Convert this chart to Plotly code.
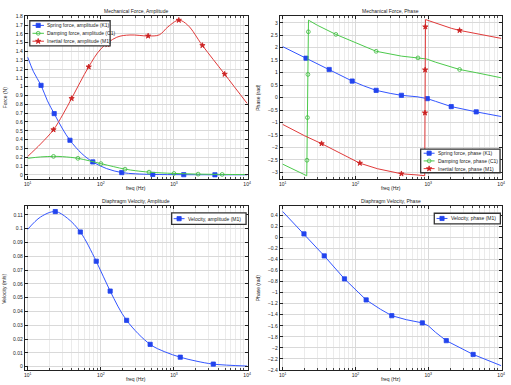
import plotly.graph_objects as go

W, H = 511, 385

# ---------------- data ----------------
# Mechanical force, amplitude (N) vs freq (Hz)
spring_amp_f = [10, 12, 15.2, 18.6, 23, 30, 37.8, 55, 77.5, 120, 193, 300, 513, 1361, 3630, 10000]
spring_amp_v = [1.335, 1.17, 1.016, 0.84, 0.695, 0.52, 0.392, 0.24, 0.146, 0.07, 0.025, 0.011, 0.004, 0.001, 0.0, 0.0]
spring_amp_mf = [15.2, 23, 37.8, 77.5, 193, 513, 1361, 3630]
spring_amp_mv = [1.016, 0.695, 0.392, 0.146, 0.025, 0.004, 0.001, 0.0]

damp_amp_f = [10, 15, 22.5, 30, 48.5, 70, 100, 150, 214, 300, 456, 1000, 2140, 4560, 10000]
damp_amp_v = [0.187, 0.203, 0.209, 0.206, 0.187, 0.158, 0.127, 0.092, 0.064, 0.046, 0.030, 0.015, 0.0075, 0.004, 0.002]
damp_amp_mf = [22.5, 48.5, 100, 214, 456, 1000, 2140, 4560]
damp_amp_mv = [0.209, 0.187, 0.127, 0.064, 0.030, 0.015, 0.0075, 0.004]

inert_amp_f = [10, 15, 22.5, 30, 39.8, 52, 68.2, 100, 165, 250, 443, 631, 826, 1164, 1542, 2450, 4930, 10000]
inert_amp_v = [0.209, 0.35, 0.512, 0.68, 0.867, 1.05, 1.226, 1.43, 1.562, 1.588, 1.577, 1.59, 1.68, 1.756, 1.70, 1.469, 1.143, 0.811]
inert_amp_mf = [22.5, 39.8, 68.2, 123, 443, 1164, 2450, 4930]
inert_amp_mv = [0.512, 0.867, 1.226, 1.48, 1.577, 1.756, 1.469, 1.143]

# Mechanical force, phase (rad)
spring_ph_f = [10, 20.9, 43.5, 90, 130, 192, 300, 427, 700, 968, 1260, 2066, 4550, 10000]
spring_ph_v = [2.044, 1.58, 1.128, 0.664, 0.47, 0.292, 0.17, 0.093, 0.035, -0.04, -0.15, -0.359, -0.571, -0.757]
spring_ph_mf = [20.9, 43.5, 90, 192, 427, 968, 2066, 4550]
spring_ph_mv = [1.58, 1.128, 0.664, 0.292, 0.093, -0.04, -0.359, -0.571]

damp_ph_f = [10, 15, 21.4, 22.6, 30, 53.7, 100, 192, 427, 721, 948, 1260, 2066, 2690, 4550, 10000]
damp_ph_v = [-2.668, -2.90, -3.133, 3.106, 2.90, 2.535, 2.19, 1.858, 1.664, 1.593, 1.55, 1.42, 1.212, 1.128, 1.0, 0.796]
damp_ph_mf = [21.52, 21.85, 22.18, 22.51, 53.7, 192, 721, 2690]
damp_ph_mv = [-2.51, -0.80, 0.93, 2.64, 2.535, 1.858, 1.593, 1.128]

inert_ph_f = [10, 20, 34.2, 60, 114.6, 200, 427, 700, 893, 915, 1260, 2066, 2690, 4550, 10000]
inert_ph_v = [-1.075, -1.53, -1.845, -2.22, -2.628, -2.85, -3.053, -3.10, -3.13, 3.13, 2.99, 2.78, 2.695, 2.57, 2.376]
inert_ph_mf = [34.2, 114.6, 427, 895, 900, 905, 911, 2690]
inert_ph_mv = [-1.845, -2.628, -3.053, -2.32, -0.61, 1.115, 2.84, 2.695]

# Diaphragm velocity, amplitude (m/s)
vel_amp_f = [10, 15, 23.8, 35, 52.4, 86.5, 134, 225, 472, 750, 1219, 2000, 3450, 10000]
vel_amp_v = [0.0995, 0.1085, 0.1124, 0.1075, 0.0976, 0.0764, 0.0548, 0.0336, 0.0162, 0.0108, 0.0069, 0.0041, 0.0019, 0.0005]
vel_amp_mf = [23.8, 52.4, 86.5, 134, 225, 472, 1219, 3450]
vel_amp_mv = [0.1124, 0.0976, 0.0764, 0.0548, 0.0336, 0.0162, 0.0069, 0.0019]

# Diaphragm velocity, phase (rad)
vel_ph_f = [10, 19.6, 37.2, 70.6, 140, 220, 315, 500, 828, 1000, 1260, 1766, 2700, 4130, 10000]
vel_ph_v = [0.471, 0.066, -0.333, -0.75, -1.131, -1.30, -1.417, -1.49, -1.548, -1.60, -1.72, -1.87, -1.995, -2.12, -2.323]
vel_ph_mf = [19.6, 37.2, 70.6, 140, 315, 828, 1766, 4130]
vel_ph_mv = [0.066, -0.333, -0.75, -1.131, -1.417, -1.548, -1.87, -2.12]

# axis tick labels and texts
x_tickvals = [10, 100, 1000, 10000]
x_ticktext = ["10<sup>1</sup>", "10<sup>2</sup>", "10<sup>3</sup>", "10<sup>4</sup>"]
titles = ["Mechanical Force, Amplitude", "Mechanical Force, Phase",
          "Diaphragm Velocity, Amplitude", "Diaphragm Velocity, Phase"]
ytitles = ["Force (N)", "Phase (rad)", "Velocity (m/s)", "Phase (rad)"]
xtitle = "freq (Hz)"
legend_tl = ["Spring force, amplitude (K1)", "Damping force, amplitude (C1)", "Inertial force, amplitude (M1)"]
legend_tr = ["Spring force, phase (K1)", "Damping force, phase (C1)", "Inertial force, phase (M1)"]
legend_bl = ["Velocity, amplitude (M1)"]
legend_br = ["Velocity, phase (M1)"]

# ---------------- styling ----------------
BLUE, GREEN, RED = "#3355ff", "#4cc94c", "#e03a3a"
BLUE_M, GREEN_M, RED_M = "#2244ee", "#3cb83c", "#cc2222"
FONT = "Liberation Sans, Arial, sans-serif"
FS = 5
GRID, MGRID = "#d9d9d9", "#ebebeb"

STY = {
    "blue": dict(color=BLUE, mcolor=BLUE_M, symbol="square", size=4.2),
    "green": dict(color=GREEN, mcolor=GREEN_M, symbol="circle-open", size=3.8),
    "red": dict(color=RED, mcolor=RED_M, symbol="star", size=4),
}

fig = go.Figure()


def add_series(ax, f, v, mf, mv, sty, shape):
    s = STY[sty]
    fig.add_trace(go.Scatter(x=f, y=v, mode="lines", xaxis="x" + ax, yaxis="y" + ax,
                             line=dict(color=s["color"], width=1, shape=shape, smoothing=1),
                             showlegend=False, hoverinfo="skip"))
    fig.add_trace(go.Scatter(x=mf, y=mv, mode="markers", xaxis="x" + ax, yaxis="y" + ax,
                             marker=dict(color=s["mcolor"], symbol=s["symbol"], size=s["size"],
                                         line=dict(color=s["mcolor"], width=0.8)),
                             showlegend=False, hoverinfo="skip"))


add_series("", spring_amp_f, spring_amp_v, spring_amp_mf, spring_amp_mv, "blue", "spline")
add_series("", damp_amp_f, damp_amp_v, damp_amp_mf, damp_amp_mv, "green", "spline")
add_series("", inert_amp_f, inert_amp_v, inert_amp_mf, inert_amp_mv, "red", "spline")
add_series("2", spring_ph_f, spring_ph_v, spring_ph_mf, spring_ph_mv, "blue", "linear")
add_series("2", damp_ph_f, damp_ph_v, damp_ph_mf, damp_ph_mv, "green", "linear")
add_series("2", inert_ph_f, inert_ph_v, inert_ph_mf, inert_ph_mv, "red", "linear")
add_series("3", vel_amp_f, vel_amp_v, vel_amp_mf, vel_amp_mv, "blue", "spline")
add_series("4", vel_ph_f, vel_ph_v, vel_ph_mf, vel_ph_mv, "blue", "linear")

# pixel-box of each plot: (left, top, right, bottom)
boxes = [(24, 13.5, 249, 178.5), (281, 13.5, 505, 178.5),
         (24, 206, 249, 372), (281, 206, 505, 372)]
yranges = [[-0.05, 1.8], [-3.27, 3.26], [-0.0025, 0.1162], [-2.405, 0.566]]
ydticks = [0.1, 0.5, 0.01, 0.2]

layout = dict(width=W, height=H, margin=dict(l=0, r=0, t=0, b=0),
              paper_bgcolor="white", plot_bgcolor="rgba(0,0,0,0)",
              font=dict(family=FONT, size=FS, color="#222"), showlegend=False)

for i, (l, t, r, b) in enumerate(boxes):
    n = "" if i == 0 else str(i + 1)
    dx = [l / W, r / W]
    dy = [1 - b / H, 1 - t / H]
    layout["xaxis" + n] = dict(
        type="log", range=[0.96, 4.013], tickvals=x_tickvals, ticktext=x_ticktext,
        domain=dx, anchor="y" + n, showline=True, linecolor="#222", linewidth=1, mirror="ticks",
        ticks="inside", ticklen=3, tickwidth=0.7, tickcolor="#222",
        showgrid=True, gridcolor=GRID, gridwidth=0.7, zeroline=False,
        tickfont=dict(size=FS, family=FONT, color="#222"),
        minor=dict(dtick="D1", ticks="inside", ticklen=2, tickwidth=0.5, tickcolor="#444",
                   showgrid=True, gridcolor=MGRID, gridwidth=0.7),
        fixedrange=True)
    layout["yaxis" + n] = dict(
        range=yranges[i], dtick=ydticks[i], tick0=0, domain=dy, anchor="x" + n,
        showline=True, linecolor="#222", linewidth=1, mirror="ticks",
        ticks="inside", ticklen=3, tickwidth=0.7, tickcolor="#222",
        showgrid=True, gridcolor=GRID, gridwidth=0.7, zeroline=False,
        tickfont=dict(size=FS, family=FONT, color="#222"), fixedrange=True)

# overlay axes in pixel coordinates (for titles and legends)
layout["xaxis5"] = dict(domain=[0, 1], range=[0, W], visible=False, anchor="y5", fixedrange=True)
layout["yaxis5"] = dict(domain=[0, 1], range=[H, 0], visible=False, anchor="x5", fixedrange=True)

annotations = []
shapes = []
for i, (l, t, r, b) in enumerate(boxes):
    annotations.append(dict(x=(l + r) / 2, y=t - 5.5, text=titles[i], showarrow=False,
                            xref="x5", yref="y5", xanchor="center", yanchor="middle"))
    annotations.append(dict(x=(l + r) / 2, y=b + 8.5, text=xtitle, showarrow=False,
                            xref="x5", yref="y5", xanchor="center", yanchor="middle"))
    annotations.append(dict(x=l - 20.5 if i in (0, 2) else l - 22, y=(t + b) / 2, text=ytitles[i],
                            showarrow=False, textangle=-90,
                            xref="x5", yref="y5", xanchor="center", yanchor="middle"))


def add_legend(box, labels, styles, y0, dy, lx0, lx1, tx):
    x0, y0b, x1, y1b = box
    shapes.append(dict(type="rect", xref="x5", yref="y5", x0=x0, y0=y0b, x1=x1, y1=y1b,
                       fillcolor="white", line=dict(color="#333", width=1.3), layer="below"))
    for k, (lab, sk) in enumerate(zip(labels, styles)):
        s = STY[sk]
        yy = y0 + k * dy
        fig.add_trace(go.Scatter(x=[lx0, (lx0 + lx1) / 2, lx1], y=[yy, yy, yy], mode="lines+markers",
                                 xaxis="x5", yaxis="y5",
                                 line=dict(color=s["color"], width=1),
                                 marker=dict(color=s["mcolor"], symbol=s["symbol"], size=s["size"],
                                             opacity=[0, 1, 0], line=dict(color=s["mcolor"], width=0.8)),
                                 showlegend=False, hoverinfo="skip"))
        annotations.append(dict(x=tx, y=yy, text=lab, showarrow=False, xref="x5", yref="y5",
                                xanchor="left", yanchor="middle"))


add_legend((29, 18, 110, 43.5), legend_tl, ["blue", "green", "red"], 22.7, 8, 31.7, 43.3, 44.8)
add_legend((423, 148, 503, 172), legend_tr, ["blue", "green", "red"], 152.2, 7.8, 426, 437, 438)
add_legend((172, 212.7, 247, 224.3), legend_bl, ["blue"], 218.5, 8, 174, 185, 186.5)
add_legend((436.7, 213, 503.3, 223.7), legend_br, ["blue"], 218.3, 8, 439, 450, 451.2)

layout["annotations"] = annotations
layout["shapes"] = shapes
fig.update_layout(**layout)

fig.write_html("out.html", config={"displayModeBar": False},
               post_script="document.body.style.margin='0';")
